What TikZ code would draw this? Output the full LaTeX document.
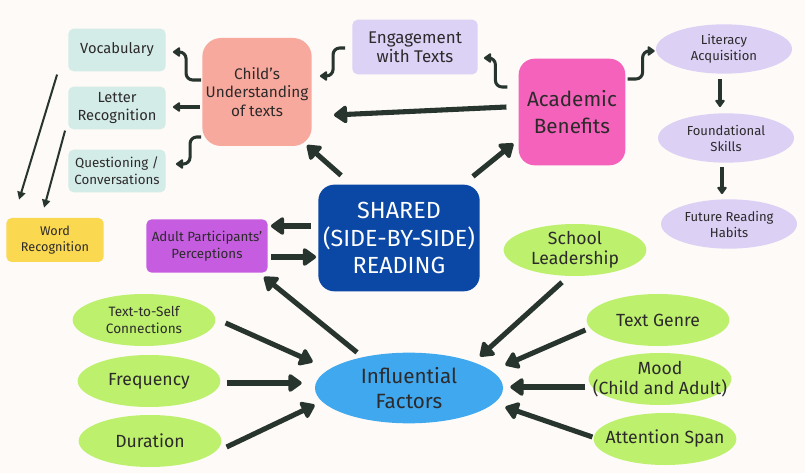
\documentclass[tikz,border=0pt]{standalone}
\usepackage{fontspec}
\setmainfont{Fira Sans}
\usetikzlibrary{shapes.geometric,arrows.meta,calc}

\definecolor{fundo}{HTML}{FDFAF7}
\definecolor{tinta}{HTML}{2C2A2B}
\definecolor{seta}{HTML}{28352F}
\definecolor{verdeagua}{HTML}{D4ECE7}
\definecolor{amarelo}{HTML}{FAD84F}
\definecolor{salmao}{HTML}{F8A99D}
\definecolor{lilas}{HTML}{DCD2F6}
\definecolor{rosa}{HTML}{F462BC}
\definecolor{lavanda}{HTML}{DCD1F5}
\definecolor{azulesc}{HTML}{0B47A5}
\definecolor{roxo}{HTML}{C65DE0}
\definecolor{verde}{HTML}{BDF06C}
\definecolor{azul}{HTML}{3FA8EF}

\tikzset{
    caixa/.style={rounded corners=4pt, inner sep=0pt, align=center, text=tinta},
    caixa clara/.style={caixa, fill=verdeagua, minimum width=73pt, minimum height=32pt,
        font=\fontsize{11}{13.5}\selectfont},
    elipse/.style={ellipse, inner sep=-2cm, align=center, text=tinta},
    elipse lilas/.style={elipse, fill=lavanda, minimum width=102pt, minimum height=37pt,
        font=\fontsize{9.8}{12}\selectfont},
    elipse verde/.style={elipse, fill=verde, minimum width=107pt, minimum height=39pt,
        font=\fontsize{13.2}{15}\selectfont},
    seta grossa/.style={draw=seta, line width=3.8pt, -{Triangle[round,length=11pt,width=15pt]}},
    seta media/.style={draw=seta, line width=2.3pt, rounded corners=5pt, -{Triangle[round,length=6pt,width=8pt]}},
    seta fina/.style={draw=seta, line width=1.5pt, -{Triangle[length=6pt,width=6pt]}}
}

\begin{document}
\begin{tikzpicture}[x=0.75pt, y=-0.75pt]
        \fill[fundo] (0,0) rectangle (805,473);

        % caixas verde-água e amarela
        \node[caixa clara] (voc) at (117,50) {Vocabulary};
        \node[caixa clara] (letras) at (117,108) {Letter\\Recognition};
        \node[caixa clara, font=\fontsize{10}{12.5}\selectfont] (que) at (117,171) {Questioning /\\Conversations};
        \node[caixa, fill=amarelo, minimum width=73pt, minimum height=33pt,
            font=\fontsize{9.5}{12}\selectfont] (pal) at (55,240) {Word\\Recognition};

        % blocos de cima
        \node[caixa, rounded corners=14pt, fill=salmao, minimum width=82pt, minimum height=81pt,
            font=\fontsize{11.5}{14}\selectfont] (comp) at (257,92) {Child's\\Understanding\\of texts};
        \node[caixa, fill=lilas, minimum width=94pt, minimum height=41pt,
            font=\fontsize{12.7}{14.5}\selectfont] (eng) at (415,47) {Engagement\\with Texts};
        \node[caixa, rounded corners=12pt, fill=rosa, minimum width=80pt, minimum height=80pt,
            font=\fontsize{15.5}{20}\selectfont] (acad) at (572,112) {Academic\\Benefits};

        % elipses lilás
        \node[elipse lilas] (lit) at (724,49) {Literacy\\Acquisition};
        \node[elipse lilas] (fund) at (726,138) {Foundational\\Skills};
        \node[elipse lilas] (fut) at (729,224) {Future Reading\\Habits};

        % centro
        \node[caixa, rounded corners=12pt, fill=azulesc, text=white, minimum width=121pt, minimum height=80pt,
            font=\fontsize{17.5}{20.5}\selectfont] (ler) at (399,238) {SHARED\\(SIDE-BY-SIDE)\\READING};
        \node[caixa, fill=roxo, minimum width=91pt, minimum height=40pt,
            font=\fontsize{10}{12.5}\selectfont] (adul) at (207,246) {Adult Participants'\\Perceptions};
        \node[elipse, fill=azul, minimum width=141pt, minimum height=53pt,
            font=\fontsize{15.5}{19}\selectfont] (infl) at (409,388) {Influential\\Factors};

        % fatores (elipses verdes)
        \node[elipse verde, font=\fontsize{10.2}{13}\selectfont] (tts) at (144,320) {Text-to-Self\\Connections};
        \node[elipse verde] (freq) at (149,381) {Frequency};
        \node[elipse verde] (dur) at (150,441) {Duration};
        \node[elipse verde] (esc) at (575,250) {School\\Leadership};
        \node[elipse verde] (gen) at (658,320) {Text Genre};
        \node[elipse verde] (humor) at (660,379) {Mood\\(Child and Adult)};
        \node[elipse verde] (aten) at (665,439) {Attention Span};

        % setas da esquerda
        \draw[seta media] ($(comp.west)+(-1,-12)$) -- ++(-15,0) |- ($(voc.east)+(7,2)$);
        \draw[seta media] ($(comp.west)+(-2,15)$) -- ($(letras.east)+(7,-1)$);
        \draw[seta media] ($(comp.west)+(-1,45)$) -- ++(-11,0) |- ($(que.east)+(10,-7)$);
        \draw[seta fina] ($(voc.south west)+(-11,3)$) -- ($(pal.north west)+(13,-18)$);
        \draw[seta fina] ($(letras.south west)+(-3,1)$) -- ($(pal.north west)+(38,-10)$);

        % setas de cima
        \draw[seta media] ($(eng.west)+(-7,1)$) -- ++(-12,0) |- ($(comp.east)+(8,-16)$);
        \draw[seta media] ($(acad.west)+(-11,-25)$) -- ++(-12,0) |- ($(eng.east)+(6,11)$);
        \draw[seta grossa] ($(acad.west)+(-12,-5)$) -- ($(comp.east)+(22,23)$);
        \draw[seta grossa] ($(ler.north west)+(23,-9)$) -- ($(comp.south east)+(-5,-1)$);
        \draw[seta grossa] ($(ler.north east)+(-7,-8)$) -- ($(acad.south west)+(-5,-22)$);

        % setas da direita
        \draw[seta media] ($(acad.east)+(2,-33)$) -- ++(15,0) |- ($(lit.west)+(-1,2)$);
        \draw[seta media] ($(lit.south)+(-4,5)$) -- ($(fund.north)+(-6,-6)$);
        \draw[seta media] ($(fund.south)+(-4,4)$) -- ($(fut.north)+(-7,-5)$);

        % setas do meio
        \draw[seta grossa] ($(ler.west)+(-7,-12)$) -- ($(adul.east)+(3,-20)$);
        \draw[seta grossa] ($(adul.east)+(3,11)$) -- ($(ler.west)+(-2,19)$);
        \draw[seta grossa] ($(infl.north)+(-52,0)$) -- ($(adul.south east)+(-4,4)$);

        % setas dos fatores
        \draw[seta grossa] ($(tts.east)+(10,3)$) -- ($(infl.west)+(-2,-26)$);
        \draw[seta grossa] ($(freq.east)+(6,2)$) -- ($(infl.west)+(-13,-5)$);
        \draw[seta grossa] ($(dur.east)+(5,6)$) -- ($(infl.west)+(0,17)$);
        \draw[seta grossa] ($(esc.south)+(-13,6)$) -- ($(infl.north)+(71,4)$);
        \draw[seta grossa] ($(gen.west)+(-1,10)$) -- ($(infl.east)+(2,-23)$);
        \draw[seta grossa] ($(humor.west)+(-3,8)$) -- ($(infl.east)+(7,-1)$);
        \draw[seta grossa] ($(aten.west)+(-1,-2)$) -- ($(infl.east)+(2,19)$);
    \end{tikzpicture}
\end{document}
